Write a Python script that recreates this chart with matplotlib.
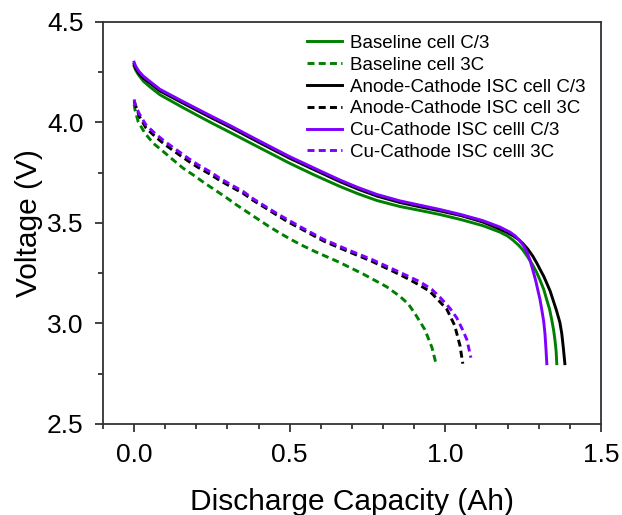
import matplotlib
matplotlib.use("Agg")
import matplotlib.pyplot as plt
from matplotlib.ticker import MultipleLocator, FormatStrFormatter

plt.rcParams['font.family'] = ['Liberation Sans', 'DejaVu Sans']

# Baseline cell C/3
base_c3_x = [0, 0.005, 0.015, 0.03, 0.05, 0.083, 0.15, 0.2, 0.25, 0.308, 0.4, 0.5, 0.58, 0.661, 0.72, 0.78, 0.854, 0.92, 0.983, 1.05, 1.12, 1.175, 1.2, 1.217, 1.235, 1.249, 1.265, 1.281, 1.293, 1.304, 1.316, 1.326, 1.335, 1.342, 1.348, 1.352, 1.356, 1.358]
base_c3_y = [4.28, 4.26, 4.235, 4.205, 4.178, 4.138, 4.08, 4.038, 3.997, 3.951, 3.877, 3.797, 3.738, 3.682, 3.645, 3.612, 3.582, 3.562, 3.542, 3.517, 3.487, 3.455, 3.435, 3.415, 3.39, 3.366, 3.33, 3.29, 3.255, 3.216, 3.17, 3.117, 3.07, 3.017, 2.965, 2.92, 2.86, 2.80]

# Baseline cell 3C
base_3c_x = [0, 0.003, 0.013, 0.035, 0.062, 0.094, 0.126, 0.158, 0.19, 0.228, 0.26, 0.292, 0.329, 0.362, 0.394, 0.43, 0.469, 0.505, 0.538, 0.581, 0.656, 0.736, 0.811, 0.854, 0.881, 0.902, 0.934, 0.957, 0.97]
base_3c_y = [4.09, 4.062, 4.004, 3.946, 3.896, 3.855, 3.813, 3.772, 3.739, 3.697, 3.664, 3.631, 3.59, 3.556, 3.523, 3.486, 3.449, 3.417, 3.39, 3.358, 3.307, 3.246, 3.183, 3.135, 3.097, 3.05, 2.97, 2.88, 2.80]

# Anode-Cathode ISC cell C/3
ac_c3_x = [0, 0.005, 0.015, 0.03, 0.05, 0.083, 0.15, 0.2, 0.25, 0.308, 0.4, 0.5, 0.58, 0.661, 0.72, 0.78, 0.854, 0.92, 0.983, 1.05, 1.12, 1.175, 1.2, 1.217, 1.235, 1.249, 1.265, 1.281, 1.294, 1.304, 1.316, 1.326, 1.337, 1.346, 1.357, 1.368, 1.374, 1.379, 1.384]
ac_c3_y = [4.29, 4.27, 4.245, 4.22, 4.197, 4.157, 4.102, 4.062, 4.022, 3.977, 3.902, 3.822, 3.764, 3.706, 3.668, 3.634, 3.602, 3.58, 3.56, 3.537, 3.505, 3.47, 3.452, 3.437, 3.418, 3.398, 3.37, 3.335, 3.30, 3.27, 3.235, 3.20, 3.16, 3.117, 3.065, 3.005, 2.95, 2.88, 2.80]

# Anode-Cathode ISC cell 3C
ac_3c_x = [0, 0.017, 0.038, 0.067, 0.099, 0.137, 0.174, 0.206, 0.244, 0.276, 0.313, 0.351, 0.383, 0.42, 0.458, 0.495, 0.533, 0.608, 0.688, 0.763, 0.838, 0.877, 0.918, 0.95, 0.977, 1.005, 1.03, 1.047, 1.056]
ac_3c_y = [4.105, 4.03, 3.973, 3.931, 3.89, 3.848, 3.808, 3.776, 3.743, 3.711, 3.679, 3.647, 3.612, 3.577, 3.54, 3.505, 3.474, 3.411, 3.358, 3.31, 3.255, 3.225, 3.19, 3.16, 3.117, 3.07, 2.99, 2.89, 2.80]

# Cu-Cathode ISC celll C/3
cu_c3_x = [0, 0.005, 0.015, 0.03, 0.05, 0.083, 0.15, 0.2, 0.25, 0.308, 0.4, 0.5, 0.58, 0.661, 0.72, 0.78, 0.854, 0.92, 0.983, 1.05, 1.12, 1.175, 1.207, 1.225, 1.24, 1.252, 1.262, 1.272, 1.281, 1.29, 1.297, 1.304, 1.31, 1.316, 1.32, 1.323, 1.326]
cu_c3_y = [4.30, 4.28, 4.255, 4.23, 4.205, 4.165, 4.11, 4.07, 4.03, 3.985, 3.91, 3.83, 3.772, 3.714, 3.676, 3.642, 3.61, 3.588, 3.567, 3.542, 3.512, 3.48, 3.455, 3.435, 3.41, 3.385, 3.356, 3.315, 3.266, 3.215, 3.167, 3.12, 3.067, 3.01, 2.95, 2.88, 2.80]

# Cu-Cathode ISC celll 3C
cu_3c_x = [0, 0.005, 0.017, 0.038, 0.067, 0.099, 0.137, 0.174, 0.206, 0.244, 0.276, 0.313, 0.351, 0.383, 0.42, 0.458, 0.495, 0.533, 0.608, 0.688, 0.763, 0.838, 0.918, 0.956, 0.983, 1.015, 1.037, 1.055, 1.069, 1.082]
cu_3c_y = [4.115, 4.08, 4.042, 3.988, 3.946, 3.905, 3.863, 3.822, 3.789, 3.755, 3.722, 3.689, 3.656, 3.62, 3.584, 3.548, 3.515, 3.482, 3.419, 3.366, 3.319, 3.266, 3.208, 3.17, 3.13, 3.075, 3.027, 2.97, 2.92, 2.83]

labels = ["Baseline cell C/3", "Baseline cell 3C",
          "Anode-Cathode ISC cell C/3", "Anode-Cathode ISC cell 3C",
          "Cu-Cathode ISC celll C/3", "Cu-Cathode ISC celll 3C"]

green = "#008000"
black = "#000000"
purple = "#8000ff"

fig = plt.figure(figsize=(6.22, 5.15), dpi=100)
ax = fig.add_axes([0.1656, 0.1767, 0.8006, 0.7806])

lw = 2.1
dash = (0, (2.4, 1.45))
ax.plot(base_c3_x, base_c3_y, color=green, lw=lw, label=labels[0])
ax.plot(base_3c_x, base_3c_y, color=green, lw=lw, linestyle=dash, label=labels[1])
ax.plot(ac_c3_x, ac_c3_y, color=black, lw=lw, label=labels[2])
ax.plot(ac_3c_x, ac_3c_y, color=black, lw=lw, linestyle=dash, label=labels[3])
ax.plot(cu_c3_x, cu_c3_y, color=purple, lw=lw, label=labels[4])
ax.plot(cu_3c_x, cu_3c_y, color=purple, lw=lw, linestyle=dash, label=labels[5])

ax.set_xlim(-0.1, 1.5)
ax.set_ylim(2.5, 4.5)
ax.xaxis.set_major_locator(MultipleLocator(0.5))
ax.xaxis.set_minor_locator(MultipleLocator(0.1))
ax.yaxis.set_major_locator(MultipleLocator(0.5))
ax.yaxis.set_minor_locator(MultipleLocator(0.25))
ax.xaxis.set_major_formatter(FormatStrFormatter('%.1f'))
ax.yaxis.set_major_formatter(FormatStrFormatter('%.1f'))

for s in ax.spines.values():
    s.set_linewidth(1.3)
    s.set_color("#333333")
ax.tick_params(which='major', direction='out', length=6, width=1.3, labelsize=19, color="#333333")
ax.tick_params(axis='x', which='major', pad=8)
ax.tick_params(axis='y', which='major', pad=8)
ax.tick_params(which='minor', direction='out', length=3.5, width=1.3, color="#333333")

ax.set_xlabel("Discharge Capacity (Ah)", fontsize=21.5, labelpad=15)
ax.set_ylabel("Voltage (V)", fontsize=21.5, labelpad=3)

leg = ax.legend(loc='upper left', bbox_to_anchor=(0.409, 0.968), frameon=False,
                fontsize=13.5, handlelength=1.9, handletextpad=0.4,
                labelspacing=0.25, borderpad=0, borderaxespad=0)

fig.savefig("out.png", dpi=100)
